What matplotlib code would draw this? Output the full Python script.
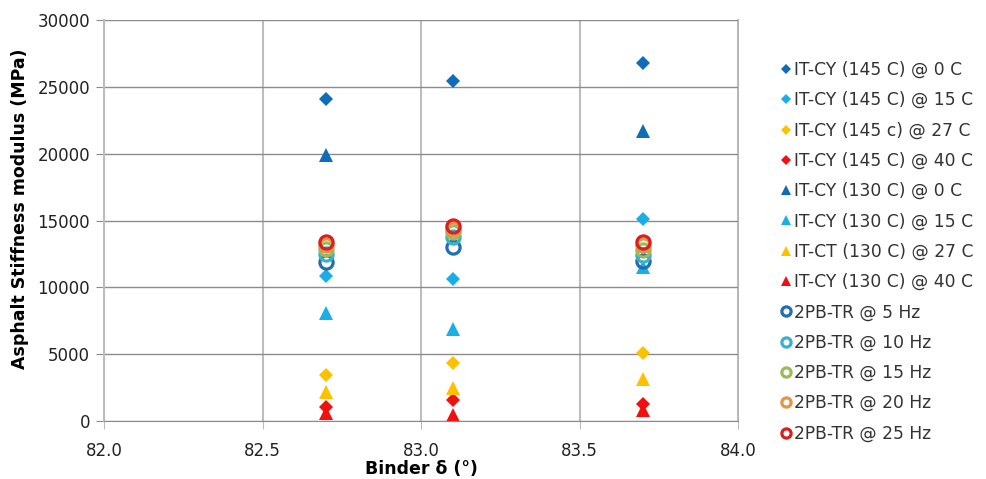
import numpy as np
import matplotlib
matplotlib.use("Agg")
import matplotlib.pyplot as plt

# ==== Data ====
binder_delta = [82.7, 83.1, 83.7]

labels = [
    "IT-CY (145 C) @ 0 C", "IT-CY (145 C) @ 15 C", "IT-CY (145 c) @ 27 C", "IT-CY (145 C) @ 40 C",
    "IT-CY (130 C) @ 0 C", "IT-CY (130 C) @ 15 C", "IT-CT (130 C) @ 27 C", "IT-CY (130 C) @ 40 C",
    "2PB-TR @ 5 Hz", "2PB-TR @ 10 Hz", "2PB-TR @ 15 Hz", "2PB-TR @ 20 Hz", "2PB-TR @ 25 Hz",
]

cy145_0 = [24100, 25400, 26800]
cy145_15 = [10850, 10600, 15100]
cy145_27 = [3420, 4320, 5060]
cy145_40 = [1050, 1570, 1250]
cy130_0 = [19900, np.nan, 21700]
cy130_15 = [8050, 6880, 11500]
cy130_27 = [2190, 2450, 3150]
cy130_40 = [600, 470, 850]
tr_5 = [11900, 13050, 11950]
tr_10 = [12500, 13750, 12420]
tr_15 = [12900, 14150, 12800]
tr_20 = [13200, 14350, 13150]
tr_25 = [13400, 14600, 13420]

series = [cy145_0, cy145_15, cy145_27, cy145_40,
          cy130_0, cy130_15, cy130_27, cy130_40,
          tr_5, tr_10, tr_15, tr_20, tr_25]

colors = ["#0E6CB8", "#1AAEE8", "#FFC000", "#F01010",
          "#0E6CB8", "#1AAEE8", "#FFC000", "#F01010",
          "#1F6FB4", "#3AB0D0", "#9BBB59", "#E3954A", "#D92020"]
markers = ["D"] * 4 + ["^"] * 4 + ["o"] * 5

# ==== Plot ====
fig = plt.figure(figsize=(9.87, 4.79), dpi=100)
ax = fig.add_axes([104 / 987, 58 / 479, 634 / 987, 401 / 479])

for vals, lab, c, m in zip(series, labels, colors, markers):
    if m == "o":
        ax.plot(binder_delta, vals, linestyle="none", marker="o", markersize=9.5,
                markerfacecolor="none", markeredgecolor=c, markeredgewidth=2.3, label=lab)
    elif m == "D":
        ax.plot(binder_delta, vals, linestyle="none", marker="D", markersize=7.2,
                color=c, markeredgewidth=0, label=lab)
    else:
        ax.plot(binder_delta, vals, linestyle="none", marker="^", markersize=10,
                color=c, markeredgewidth=0, label=lab)

ax.set_xlim(82.0, 84.0)
ax.set_ylim(0, 30000)
ax.set_xticks(np.arange(82.0, 84.01, 0.5))
ax.set_xticklabels(["%.1f" % v for v in np.arange(82.0, 84.01, 0.5)])
ax.set_yticks(np.arange(0, 30001, 5000))

ax.grid(axis="y", color="#8C8C8C", linewidth=1.0)
ax.grid(axis="x", color="#BDBDBD", linewidth=1.5)
ax.set_axisbelow(True)

for s in ["top", "right"]:
    ax.spines[s].set_visible(False)
ax.spines["left"].set_color("#BDBDBD")
ax.spines["left"].set_linewidth(1.5)
ax.spines["bottom"].set_color("#8C8C8C")
ax.plot([1, 1], [0, 1], transform=ax.transAxes, color="#A6A6A6", lw=1.2, clip_on=False, zorder=0)

ax.tick_params(axis="y", length=6, color="#8C8C8C", labelsize=12, labelcolor="#222222", pad=4)
ax.tick_params(axis="x", length=6, color="#BDBDBD", labelsize=12, labelcolor="#222222", pad=9)

ax.set_xlabel("Binder δ (°)", fontsize=12.5, fontweight="bold", labelpad=0)
ax.set_ylabel("Asphalt Stiffness modulus (MPa)", fontsize=12.5, fontweight="bold")
ax.yaxis.set_label_coords(-0.118, 0.53)

ax.legend(loc="upper left", bbox_to_anchor=(1.055, 0.915), frameon=False, fontsize=12.3,
          handletextpad=0.15, handlelength=0.7, labelspacing=0.72, borderaxespad=0,
          markerscale=0.7, labelcolor="#333333")

plt.savefig("out.png", dpi=100)
